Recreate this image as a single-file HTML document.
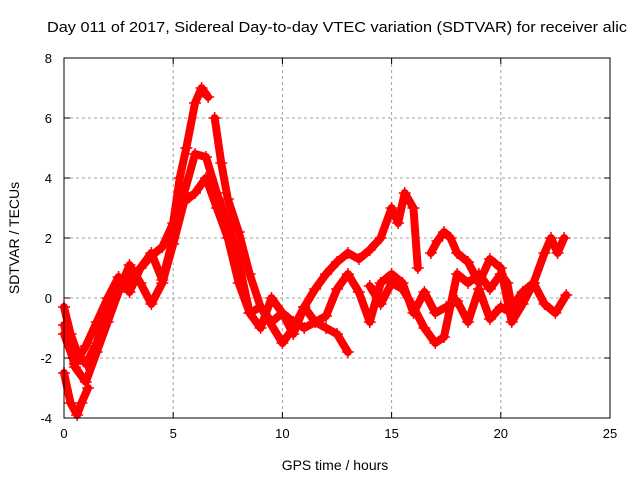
<!DOCTYPE html>
<html><head><meta charset="utf-8">
<style>body{margin:0;background:#fff}svg{display:block;font-family:"Liberation Sans",Arial,sans-serif}</style>
</head><body>
<svg id="c" width="640" height="480" viewBox="0 0 640 480">
<text x="47" y="32" font-size="15" textLength="580" lengthAdjust="spacingAndGlyphs" fill="#000">Day 011 of 2017, Sidereal Day-to-day VTEC variation (SDTVAR) for receiver alic</text>
<g id="grid"></g><g id="series"></g><g id="axes"></g>
<text x="335" y="470" font-size="14" text-anchor="middle">GPS time / hours</text>
<text transform="translate(19,238) rotate(-90)" font-size="14" text-anchor="middle">SDTVAR / TECUs</text>
</svg>
<script>
const xTicks=[0,5,10,15,20,25];
const yTicks=[-4,-2,0,2,4,6,8];
const s1h=[0,0.3,0.6,1,1.5,2,2.5,3,3.5,4,4.5,5,5.3,5.6,6,6.3,6.6];
const s1v=[-0.3,-1.2,-1.8,-2.2,-1.5,-0.3,0.3,0.6,1.0,1.4,1.7,2.5,4.0,5.0,6.5,7.0,6.7];
const s2h=[6.9,7.2,7.5,8,8.5,9,9.5,10,10.5,11,11.5,12,12.5,13,13.5,14,14.5,15,15.3,15.6,16,16.2];
const s2v=[6.0,4.5,3.3,2.2,0.8,-0.3,-0.8,-0.5,-1.2,-0.3,0.3,0.8,1.2,1.5,1.3,1.6,2.0,3.0,2.5,3.5,3.0,1.0];
const s3h=[16.8,17.1,17.4,17.7,18,18.5,19,19.5,20,20.5,21,21.5,22,22.3,22.6,22.9];
const s3v=[1.5,1.9,2.2,2.0,1.5,1.2,0.5,1.3,1.0,-0.8,-0.2,0.5,1.5,2.0,1.5,2.0];
const s4h=[0,0.5,1,1.5,2,2.5,3,3.5,4,4.5,5,5.5,6,6.5,7,7.5,8,8.5,9,10,10.5,11,11.5,12,12.5,13,13.5,14,14.5,15,15.5,16,16.5,17,17.5,18,18.5,19,19.5,20,20.5,21,21.5,22,22.5,23];
const s4v=[-0.9,-2.3,-2.8,-1.8,-0.8,0.2,1.1,0.5,-0.2,0.5,1.8,3.2,3.5,4.0,3.0,2.0,0.5,-0.5,-0.3,-1.5,-1.0,-0.3,-0.8,-0.6,0.3,0.8,0.2,-0.8,0.5,0.8,0.5,-0.5,0.2,-0.5,-0.3,-0.1,-0.8,0.3,-0.7,-0.3,-0.5,0.0,0.5,-0.2,-0.5,0.1];
const s5h=[0,0.5,1,1.5,2,2.5,3,3.5,4,4.5,5,5.5,6,6.5,7,7.5,8,8.5,9,9.5,10,10.5,11,11.5,12,12.5,13];
const s5v=[-1.2,-2.2,-1.6,-0.8,0.0,0.7,0.2,1.0,1.5,0.6,2.0,3.5,4.8,4.7,3.5,2.5,1.2,-0.5,-1.0,0.0,-0.5,-0.8,-1.0,-0.8,-1.0,-1.2,-1.8];
const s6h=[0,0.3,0.6,0.8,1.1];
const s6v=[-2.5,-3.5,-3.9,-3.5,-3.0];
const s7h=[14,14.5,15,15.5,16,16.5,17,17.4,18,18.5,19,19.5,20,20.3,20.5,21,21.5];
const s7v=[0.4,-0.2,0.5,0.3,-0.3,-1.0,-1.5,-1.3,0.8,0.5,0.8,0.3,0.8,0.5,-0.3,0.2,0.5];
const seriesH=[s1h,s2h,s3h,s4h,s5h,s6h,s7h], seriesV=[s1v,s2v,s3v,s4v,s5v,s6v,s7v];
const X0=64,X1=610,Y0=418,Y1=58;
const xs=v=>X0+(v-0)/(25-0)*(X1-X0);
const ys=v=>Y0-(v+4)/12*(Y0-Y1);
const NS="http://www.w3.org/2000/svg";
function mk(t,a,p){const e=document.createElementNS(NS,t);for(const k in a)e.setAttribute(k,a[k]);p.appendChild(e);return e;}
const g=document.getElementById('grid'),sg=document.getElementById('series'),ag=document.getElementById('axes');
xTicks.forEach(t=>{const x=xs(t);
 if(t>0&&t<25){const l=mk('line',{x1:x,x2:x,y1:Y1,y2:Y0,stroke:'#a0a0a0','stroke-dasharray':'3,3'},g);
 
 }
 mk('line',{x1:x,x2:x,y1:Y0,y2:Y0-6,stroke:'#000'},ag);mk('line',{x1:x,x2:x,y1:Y1,y2:Y1+6,stroke:'#000'},ag);
 const tx=mk('text',{x:x,y:Y0+20,'font-size':13,'text-anchor':'middle'},ag);tx.textContent=t;
 
 });
yTicks.forEach(t=>{const y=ys(t);
 if(t>-4&&t<8){const l=mk('line',{x1:X0,x2:X1,y1:y,y2:y,stroke:'#a0a0a0','stroke-dasharray':'3,3'},g);
 
 }
 mk('line',{x1:X0,x2:X0+6,y1:y,y2:y,stroke:'#000'},ag);mk('line',{x1:X1,x2:X1-6,y1:y,y2:y,stroke:'#000'},ag);
 const tx=mk('text',{x:X0-12,y:y+5,'font-size':13,'text-anchor':'end'},ag);tx.textContent=t;
 
 });
const fr=mk('rect',{x:X0,y:Y1,width:X1-X0,height:Y0-Y1,fill:'none',stroke:'#000'},ag);


seriesH.forEach((hs,i)=>{const vs=seriesV[i];
 const grp=mk('g',{},sg);
 
 
 const pts=hs.map((h,j)=>xs(h)+','+ys(vs[j])).join(' ');
 mk('polyline',{points:pts,fill:'none',stroke:'#f00','stroke-width':8,'stroke-linejoin':'round','stroke-linecap':'round'},grp);
 hs.forEach((h,j)=>{const x=xs(h),y=ys(vs[j]);
  mk('path',{d:`M${x-6},${y}h12M${x},${y-6}v12`,stroke:'#f00','stroke-width':1.5},grp);});
});
</script>
</body></html>
